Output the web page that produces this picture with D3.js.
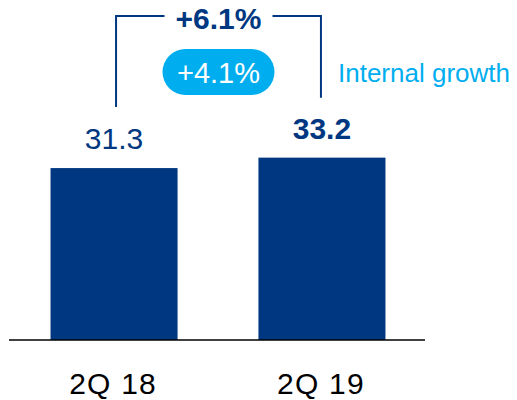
<!DOCTYPE html>
<html><head><meta charset="utf-8">
<script src="https://cdn.jsdelivr.net/npm/d3@7"></script>
<style>body{margin:0;background:#fff}svg{display:block}</style>
</head><body>
<script>
const categories = ["2Q 18", "2Q 19"];
const values = [31.3, 33.2];
const valueLabels = ["31.3", "33.2"];
const totalGrowth = "+6.1%";
const internalGrowth = "+4.1%";
const internalLabel = "Internal growth";

const W = 517, H = 400;
const navy = "#003781", cyan = "#00AEEF";
const font = "Liberation Sans, Arial, sans-serif";
const svg = d3.select("body").append("svg").attr("width", W).attr("height", H);

const x = d3.scaleBand().domain(categories).range([10, 426]).paddingInner(0.389).paddingOuter(0.195);
const y = d3.scaleLinear().domain([0, 61.9]).range([340, 0]);

svg.selectAll("rect.bar").data(values).join("rect").attr("class","bar")
  .attr("x", (d,i) => x(categories[i])).attr("width", x.bandwidth())
  .attr("y", d => y(d)).attr("height", d => y(0) - y(d)).attr("fill", navy);

// axis baseline
const axis = d3.axisBottom(x).tickSize(0).tickPadding(33);
const g = svg.append("g").attr("transform", `translate(0,${y(0)})`).call(axis);
g.select(".domain").attr("d", "M9,0H425").attr("stroke", "#000").attr("stroke-width", 1.5);
g.selectAll("text").attr("font-family", font).attr("font-size", 30).attr("fill", "#000")
  .attr("letter-spacing", 1.2).attr("dx", -1);

// value labels
svg.selectAll("text.val").data(values).join("text").attr("class","val")
  .attr("x", (d,i) => x(categories[i]) + x.bandwidth()/2)
  .attr("y", d => y(d) - 19)
  .attr("text-anchor", "middle").attr("font-family", font).attr("font-size", 30)
  .attr("font-weight", (d,i) => i === 1 ? "bold" : "normal")
  .attr("fill", navy).text((d,i) => valueLabels[i]);

// bracket
const cx1 = x(categories[0]) + x.bandwidth()/2 + 2;
const cx2 = x(categories[1]) + x.bandwidth()/2 - 1;
const topY = 16;
const midX = (cx1 + cx2) / 2;
const b = svg.append("g").attr("fill","none").attr("stroke", navy).attr("stroke-width", 2);
b.append("path").attr("d", `M${cx1},${y(values[0]) - 61}V${topY}H${midX - 54}`);
b.append("path").attr("d", `M${midX + 54},${topY}H${cx2}V${y(values[1]) - 60}`);
svg.append("text").attr("x", midX).attr("y", 29).attr("text-anchor","middle")
  .attr("font-family", font).attr("font-size", 30).attr("font-weight","bold")
  .attr("fill", navy).text(totalGrowth);

// pill
svg.append("rect").attr("x", midX - 56).attr("y", 49).attr("width", 112).attr("height", 46)
  .attr("rx", 23).attr("fill", cyan);
svg.append("text").attr("x", midX).attr("y", 83).attr("text-anchor","middle")
  .attr("font-family", font).attr("font-size", 29).attr("fill", "#fff").text(internalGrowth);

svg.append("text").attr("x", 338).attr("y", 82).attr("font-family", font).attr("font-size", 26)
  .attr("fill", cyan).text(internalLabel);
</script>
</body></html>
